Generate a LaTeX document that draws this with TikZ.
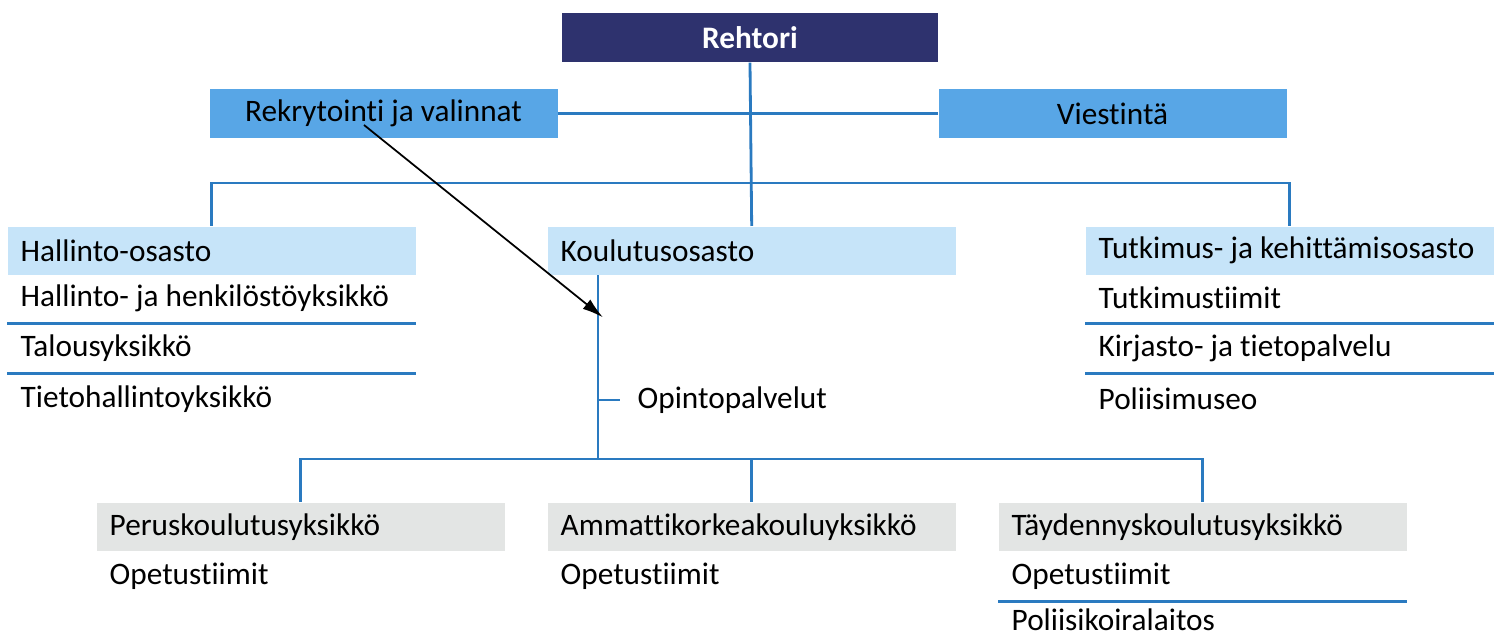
\documentclass[tikz,border=0pt]{standalone}
\usepackage{fontspec}
\setmainfont{Carlito}[Ligatures=NoCommon]
\usetikzlibrary{positioning,arrows.meta}
\definecolor{navy}{RGB}{46,50,110}
\definecolor{midblue}{RGB}{88,166,230}
\definecolor{paleblue}{RGB}{198,228,249}
\definecolor{palegray}{RGB}{227,229,228}
\definecolor{linkblue}{RGB}{42,122,192}
\tikzset{
  txt/.style={font=\fontsize{8.9}{11}\selectfont},
  headbox/.style={txt,fill=navy,text=white,font=\fontsize{8.9}{11}\selectfont\bfseries,minimum width=3.76cm,minimum height=0.49cm,inner sep=0pt},
  topbox/.style={txt,fill=midblue,minimum width=3.48cm,minimum height=0.49cm,inner sep=0pt},
  deptbox/.style={txt,fill=paleblue,text width=3.82cm,inner xsep=0.13cm,inner ysep=0pt,minimum height=0.48cm,align=flush left},
  unitbox/.style={deptbox,fill=palegray},
  item/.style={txt,text width=3.82cm,inner xsep=0.13cm,inner ysep=0pt,minimum height=0.49cm,align=flush left},
  orgline/.style={linkblue,line width=0.8pt},
}
\begin{document}
\begin{tikzpicture}
\useasboundingbox (0,0) rectangle (14.97,-6.36);
% top level
\node[headbox] (reh) at (7.50,-0.375) {Rehtori};
\node[topbox] (rekry) at (3.835,-1.135) {Rekrytointi ja valinnat};
\node[topbox] (viest) at (11.125,-1.135) {Viestintä};
% departments
\node[deptbox,anchor=north west] (hall) at (0.07,-2.26) {Hallinto-osasto};
\node[deptbox,anchor=north west] (kou) at (5.47,-2.26) {Koulutusosasto};
\node[deptbox,anchor=north west] (tutk) at (10.85,-2.26) {Tutkimus- ja kehittämisosasto};
\node[item,anchor=north west] (hall1) at (0.07,-2.73) {Hallinto- ja henkilöstöyksikkö};
\node[item,below=0pt of hall1] (hall2) {Talousyksikkö};
\node[item,below=0pt of hall2] (hall3) {Tietohallintoyksikkö};
\node[item,anchor=north west] (tutk1) at (10.85,-2.73) {Tutkimustiimit};
\node[item,below=0pt of tutk1] (tutk2) {Kirjasto- ja tietopalvelu};
\node[item,below=0pt of tutk2] (tutk3) {Poliisimuseo};
\node[txt,anchor=west,inner xsep=0.17cm] (opin) at (6.20,-4.00) {Opintopalvelut};
% units
\node[unitbox,anchor=north west] (perus) at (0.96,-5.02) {Peruskoulutusyksikkö};
\node[unitbox,anchor=north west] (amk) at (5.47,-5.02) {Ammattikorkeakouluyksikkö};
\node[unitbox,anchor=north west] (tayd) at (9.98,-5.02) {Täydennyskoulutusyksikkö};
\node[item,below=0pt of perus] (perus1) {Opetustiimit};
\node[item,below=0pt of amk] (amk1) {Opetustiimit};
\node[item,below=0pt of tayd] (tayd1) {Opetustiimit};
\node[item,below=-0.07cm of tayd1] (tayd2) {Poliisikoiralaitos};
% connectors
\coordinate (tbus) at (7.50,-1.83);
\coordinate (bbus) at (7.50,-4.59);
\coordinate (kk) at ([xshift=0.51cm]kou.south west);
\draw[orgline] (reh.south) -- (kou.north);
\draw[orgline] (rekry.east) -- (viest.west);
\draw[orgline] (hall.north) |- (tbus) -| (tutk.north);
\draw[orgline] (kk) -- (kk |- bbus);
\draw[orgline] (kk |- opin.west) -- (opin.west);
\draw[orgline] (perus.north) |- (bbus) -| (tayd.north);
\draw[orgline] (amk.north) -- (amk.north |- bbus);
\draw[orgline] (hall1.south west) -- (hall1.south east);
\draw[orgline] (hall2.south west) -- (hall2.south east);
\draw[orgline] (tutk1.south west) -- (tutk1.south east);
\draw[orgline] (tutk2.south west) -- (tutk2.south east);
\draw[orgline] (tayd1.south west) -- (tayd1.south east);
% arrow
\coordinate (arrtip) at ([xshift=0.05cm,yshift=-0.42cm]kk);
\draw[-{Latex[length=2.1mm,width=1.2mm]},line width=0.5pt] ([xshift=-0.195cm,yshift=-0.115cm]rekry.center) -- (arrtip);
\end{tikzpicture}
\end{document}
